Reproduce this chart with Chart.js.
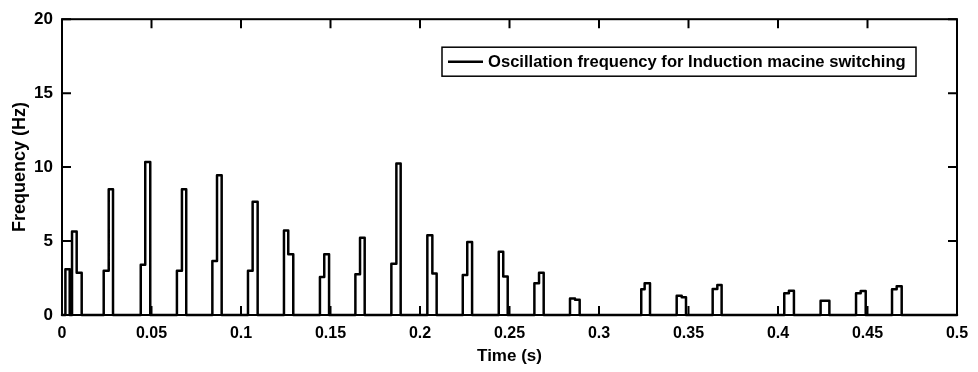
<!DOCTYPE html>
<html>
<head>
<meta charset="utf-8">
<script src="https://cdn.jsdelivr.net/npm/chart.js@4/dist/chart.umd.min.js"></script>
<style>
  body { margin: 0; background: #fff; }
</style>
</head>
<body>
<canvas id="freq-chart" width="978" height="372"></canvas>
<script>
// step series: each value holds from its time until the next time
const stepTimes = [
  0, 0.0019, 0.0043, 0.0056, 0.0082, 0.0110,
  0.0233, 0.0261, 0.0285,
  0.0440, 0.0465, 0.0493,
  0.0642, 0.0670, 0.0694,
  0.0840, 0.0866, 0.0892,
  0.1039, 0.1065, 0.1093,
  0.1240, 0.1264, 0.1292,
  0.1441, 0.1465, 0.1492,
  0.1639, 0.1665, 0.1691,
  0.1840, 0.1868, 0.1892,
  0.2041, 0.2069, 0.2093,
  0.2239, 0.2264, 0.2291,
  0.2440, 0.2465, 0.2490,
  0.2639, 0.2665, 0.2691,
  0.2838, 0.2866, 0.2892,
  0.3236, 0.3255, 0.3285,
  0.3434, 0.3462, 0.3486,
  0.3635, 0.3661, 0.3685,
  0.4035, 0.4061, 0.4089,
  0.4238, 0.4263, 0.4287,
  0.4436, 0.4462, 0.4490,
  0.4637, 0.4663, 0.4691,
  0.5
];
const stepValues = [
  0, 3.1, 0, 5.65, 2.85, 0,
  3.0, 8.5, 0,
  3.4, 10.35, 0,
  3.0, 8.5, 0,
  3.65, 9.45, 0,
  3.0, 7.65, 0,
  5.72, 4.1, 0,
  2.57, 4.1, 0,
  2.75, 5.22, 0,
  3.47, 10.25, 0,
  5.4, 2.8, 0,
  2.7, 4.93, 0,
  4.28, 2.6, 0,
  2.14, 2.86, 0,
  1.12, 1.03, 0,
  1.74, 2.14, 0,
  1.3, 1.2, 0,
  1.76, 2.03, 0,
  1.47, 1.64, 0,
  0.97, 0.97, 0,
  1.47, 1.62, 0,
  1.74, 1.94, 0,
  0
];
const xTickValues = [0, 0.05, 0.1, 0.15, 0.2, 0.25, 0.3, 0.35, 0.4, 0.45, 0.5];
const yTickValues = [0, 5, 10, 15, 20];
const seriesLabel = "Oscillation frequency for Induction macine switching";

const FONT = "'Liberation Sans', Arial, sans-serif";

// matlab style box with inward ticks and a boxed legend inside the axes
const matlabAxes = {
  id: 'matlabAxes',
  afterDraw(chart) {
    const ctx = chart.ctx;
    const { left, right, top, bottom } = chart.chartArea;
    const xs = chart.scales.x, ys = chart.scales.y;
    const tl = 9;
    ctx.save();
    ctx.strokeStyle = '#000';
    ctx.lineWidth = 2;
    ctx.strokeRect(left, top, right - left, bottom - top);
    ctx.beginPath();
    xTickValues.forEach(v => {
      const px = xs.getPixelForValue(v);
      ctx.moveTo(px, bottom); ctx.lineTo(px, bottom - tl);
      ctx.moveTo(px, top); ctx.lineTo(px, top + tl);
    });
    yTickValues.forEach(v => {
      const py = ys.getPixelForValue(v);
      ctx.moveTo(left, py); ctx.lineTo(left + tl, py);
      ctx.moveTo(right, py); ctx.lineTo(right - tl, py);
    });
    ctx.stroke();

    // legend
    const bx = right - 41, by = top + 28;
    const bw = 474, bh = 29;
    ctx.fillStyle = '#fff';
    ctx.fillRect(bx - bw, by, bw, bh);
    ctx.lineWidth = 1.5;
    ctx.strokeRect(bx - bw, by, bw, bh);
    ctx.lineWidth = 2.4;
    ctx.beginPath();
    ctx.moveTo(bx - bw + 6, by + bh / 2);
    ctx.lineTo(bx - bw + 41, by + bh / 2);
    ctx.stroke();
    ctx.fillStyle = '#000';
    ctx.font = "bold 16.6px " + FONT;
    ctx.textBaseline = 'middle';
    ctx.textAlign = 'left';
    ctx.fillText(chart.data.datasets[0].label, bx - bw + 46, by + bh / 2 + 1);
    ctx.restore();
  }
};

const ctx = document.getElementById('freq-chart').getContext('2d');
const chart = new Chart(ctx, {
  type: 'line',
  data: {
    datasets: [{
      label: seriesLabel,
      data: stepTimes.map((t, i) => ({ x: t, y: stepValues[i] })),
      borderColor: '#000',
      borderWidth: 2.5,
      stepped: true,
      pointRadius: 0,
      borderJoinStyle: 'round',
      borderCapStyle: 'round',
      fill: false,
      clip: 4,
    }]
  },
  options: {
    responsive: false,
    animation: false,
    layout: { padding: { top: 18, right: 21, left: 0, bottom: 0 } },
    plugins: {
      legend: { display: false },
      tooltip: { enabled: false },
    },
    scales: {
      x: {
        type: 'linear',
        min: 0,
        max: 0.5,
        afterFit: (s) => { s.height = 57; },
        afterBuildTicks: (s) => { s.ticks = xTickValues.map(v => ({ value: v })); },
        grid: { display: false, drawTicks: false },
        border: { display: false },
        ticks: {
          color: '#000',
          padding: 9,
          maxRotation: 0,
          autoSkip: false,
          font: { family: FONT, size: 16, weight: 'bold' },
          callback: (v) => String(Math.round(v * 100) / 100),
        },
        title: {
          display: true,
          text: 'Time (s)',
          color: '#000',
          padding: { top: 0, bottom: 5 },
          font: { family: FONT, size: 17, weight: 'bold' },
        },
      },
      y: {
        min: 0,
        max: 20,
        afterFit: (s) => { s.width = 62; },
        afterBuildTicks: (s) => { s.ticks = yTickValues.map(v => ({ value: v })); },
        grid: { display: false, drawTicks: false },
        border: { display: false },
        ticks: {
          color: '#000',
          padding: 9,
          font: { family: FONT, size: 17, weight: 'bold' },
        },
        title: {
          display: true,
          text: 'Frequency (Hz)',
          color: '#000',
          padding: { top: 9, bottom: 0 },
          font: { family: FONT, size: 18, weight: 'bold' },
        },
      },
    },
  },
  plugins: [matlabAxes],
});
</script>
</body>
</html>
